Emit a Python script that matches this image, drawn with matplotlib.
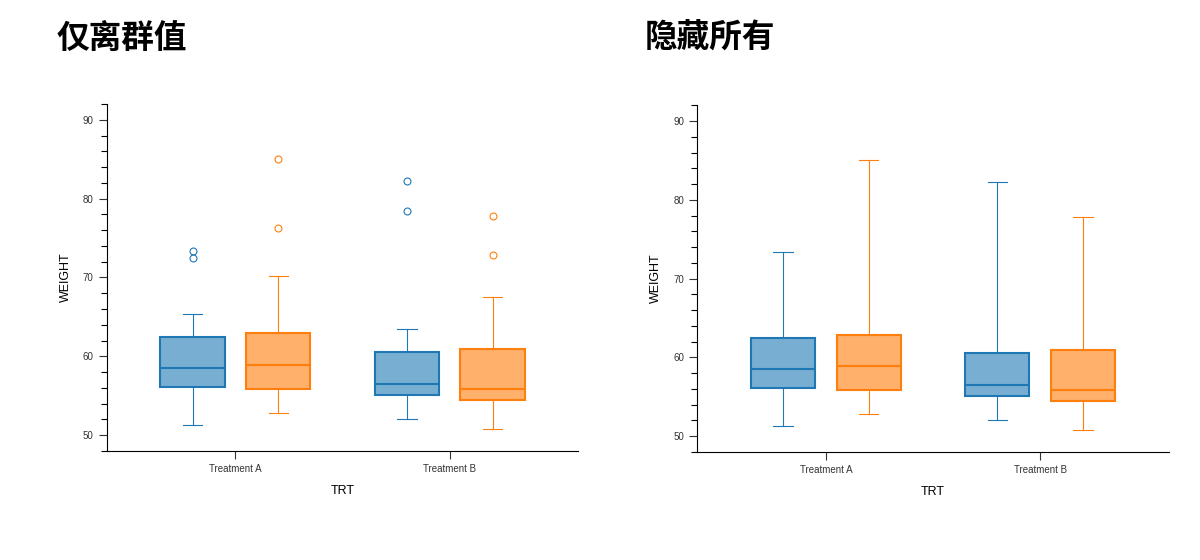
import matplotlib
matplotlib.use("Agg")
import matplotlib.pyplot as plt
from matplotlib.ticker import MultipleLocator

plt.rcParams['font.family'] = ['Liberation Sans', 'DejaVu Sans']

# 数据：每组箱线图的统计值
groups = ["Treatment A", "Treatment B"]
series_colors = ["#1f77b4", "#ff7f0e"]
fill_colors = ["#78aed2", "#ffb06b"]

q1 = [[56.1, 55.1], [55.8, 54.5]]
med = [[58.5, 56.5], [58.85, 55.8]]
q3 = [[62.5, 60.5], [62.9, 60.9]]
whis_lo = [[51.3, 52.0], [52.8, 50.8]]
whis_hi = [[65.4, 63.4], [70.2, 67.5]]
outliers = [[[73.4, 72.5], [82.3, 78.4]], [[85.0, 76.3], [77.8, 72.8]]]

titles = ["仅离群值", "隐藏所有"]

fig = plt.figure(figsize=(12, 5.6), dpi=100)
axes = [fig.add_axes([0.089, 0.195, 0.393, 0.619]),
        fig.add_axes([0.581, 0.193, 0.393, 0.619])]

for k, ax in enumerate(axes):
    show_outliers = (k == 0)
    for s in range(2):
        stats = []
        for g in range(len(groups)):
            if show_outliers:
                hi = whis_hi[s][g]
                lo = whis_lo[s][g]
                fl = outliers[s][g]
            else:
                # 隐藏离群值时须线延伸到最值
                hi = max([whis_hi[s][g]] + outliers[s][g])
                lo = min([whis_lo[s][g]] + outliers[s][g])
                fl = []
            stats.append(dict(med=med[s][g], q1=q1[s][g], q3=q3[s][g],
                              whislo=lo, whishi=hi, fliers=fl))
        pos = [g + (s - 0.5) * 0.4 for g in range(len(groups))]
        c = series_colors[s]
        ax.bxp(stats, positions=pos, widths=0.30, capwidths=0.09,
               patch_artist=True, showfliers=show_outliers,
               boxprops=dict(facecolor=fill_colors[s], edgecolor=c, linewidth=1.5),
               medianprops=dict(color=c, linewidth=1.5),
               whiskerprops=dict(color=c, linewidth=0.8),
               capprops=dict(color=c, linewidth=0.8),
               flierprops=dict(marker='o', markersize=5, markerfacecolor='none',
                               markeredgecolor=c, markeredgewidth=0.8))

    ax.set_xlim(-0.6, 1.6)
    ax.set_ylim(48, 92)
    ax.set_xticks(range(len(groups)))
    ax.set_xticklabels(groups)
    ax.yaxis.set_major_locator(MultipleLocator(10))
    ax.yaxis.set_minor_locator(MultipleLocator(2))
    ax.set_yticks([50, 60, 70, 80, 90])
    ax.tick_params(axis='both', labelsize=7, colors='#333333', length=6, width=0.8)
    ax.tick_params(axis='y', which='minor', length=4, width=0.8)
    for t in ax.get_xticklabels() + ax.get_yticklabels():
        t.set_color('#333333')
    ax.spines['top'].set_visible(False)
    ax.spines['right'].set_visible(False)
    ax.spines['left'].set_linewidth(0.8)
    ax.spines['bottom'].set_linewidth(0.8)
    ax.set_xlabel("TRT", fontsize=9, labelpad=8)
    ax.set_ylabel("WEIGHT", fontsize=9, labelpad=8)

fig.text(0.0475, 0.932, titles[0], fontsize=23.5, fontweight='bold',
         family=['Noto Sans CJK SC', 'DejaVu Sans'], va='center', ha='left')
fig.text(0.5375, 0.932, titles[1], fontsize=23.5, fontweight='bold',
         family=['Noto Sans CJK SC', 'DejaVu Sans'], va='center', ha='left')

fig.savefig("out.png", dpi=100)
